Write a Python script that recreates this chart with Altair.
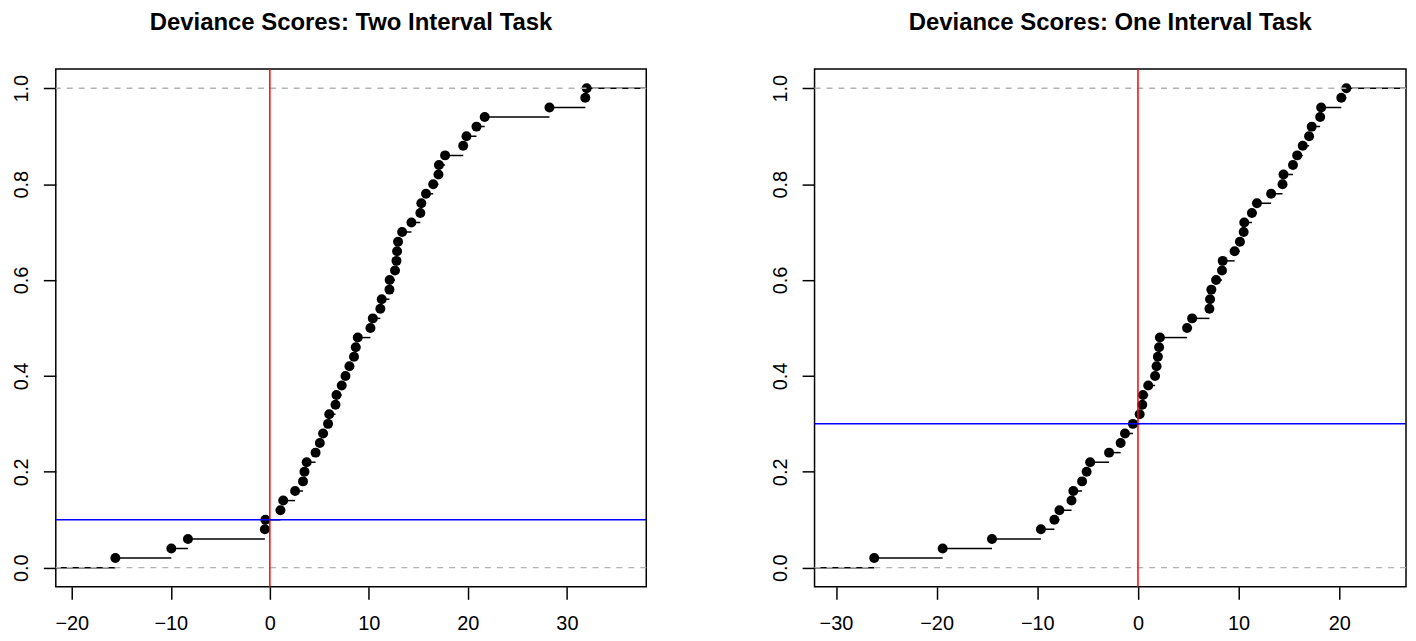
import altair as alt
import pandas as pd
import numpy as np

# Deviance scores (sorted) (n = 50 each)
two_interval = [
    -15.6, -9.95, -8.27, -0.5, -0.45, 1.07, 1.35, 2.55, 3.35, 3.5,
    3.72, 4.62, 5.05, 5.38, 5.88, 6.0, 6.63, 6.73, 7.26, 7.64,
    8.04, 8.5, 8.68, 8.88, 10.16, 10.4, 11.16, 11.3, 12.08, 12.1,
    12.64, 12.79, 12.85, 12.95, 13.36, 14.3, 15.2, 15.3, 15.77, 16.5,
    17.03, 17.08, 17.7, 19.53, 19.86, 20.87, 21.7, 28.24, 31.86, 32.0,
]
one_interval = [
    -26.2, -19.4, -14.5, -9.64, -8.3, -7.8, -6.6, -6.42, -5.55, -5.1,
    -4.75, -2.87, -1.72, -1.29, -0.5, 0.17, 0.43, 0.5, 1.02, 1.7,
    1.85, 1.98, 2.1, 2.18, 4.88, 5.38, 7.1, 7.16, 7.29, 7.76,
    8.35, 8.42, 9.6, 10.13, 10.5, 10.56, 11.32, 11.82, 13.23, 14.36,
    14.46, 15.4, 15.82, 16.37, 17.0, 17.26, 18.1, 18.2, 20.2, 20.7,
]
titles = ["Deviance Scores: Two Interval Task", "Deviance Scores: One Interval Task"]
blue_levels = [0.1, 0.3]
red_level = 0.0
ref_levels = [0.0, 1.0]
x_ticks_two = [-20, -10, 0, 10, 20, 30]
x_ticks_one = [-30, -20, -10, 0, 10, 20]
y_ticks = [0.0, 0.2, 0.4, 0.6, 0.8, 1.0]

FONT = "Liberation Sans"


def panel(vals, title, hline, xticks, width):
    v = sorted(vals)
    n = len(v)
    dr = max(0.08 * (v[-1] - v[0]), float(np.median(np.diff(v))))
    lo, hi = v[0] - dr, v[-1] + dr
    ext = 0.04 * (hi - lo)
    xdom = [lo - ext, hi + ext]
    ydom = [-0.04, 1.04]

    pts = pd.DataFrame({"x": v, "y": [(i + 1) / n for i in range(n)]})
    seg = pd.DataFrame({
        "x": [xdom[0]] + v,
        "x2": v + [xdom[1]],
        "y": [i / n for i in range(n + 1)],
    })
    refs = pd.DataFrame({"y": ref_levels})
    red = pd.DataFrame({"x": [red_level]})
    blue = pd.DataFrame({"y": [hline]})

    xs = alt.Scale(domain=xdom, nice=False, zero=False)
    ys = alt.Scale(domain=ydom, nice=False, zero=False)
    xax = alt.Axis(values=xticks, title=None, grid=False, domain=False,
                   labelFontSize=20, labelFont=FONT, labelColor="black",
                   tickSize=12.5, tickWidth=1.5, tickColor="black",
                   labelPadding=14, labelFlush=False, labelOverlap=False,
                   labelBaseline="top")
    yax = alt.Axis(values=y_ticks, format=".1f", title=None, grid=False, domain=False,
                   labelFontSize=20, labelFont=FONT, labelColor="black",
                   tickSize=12.5, tickWidth=1.5, tickColor="black",
                   labelAngle=270, labelAlign="center", labelBaseline="alphabetic",
                   labelPadding=16, labelFlush=False, labelOverlap=False,
                   minExtent=47, maxExtent=47)

    segs = alt.Chart(seg).mark_rule(color="black", strokeWidth=1.5, clip=True).encode(
        x=alt.X("x:Q", scale=xs, axis=xax),
        x2="x2:Q",
        y=alt.Y("y:Q", scale=ys, axis=yax),
    )
    dots = alt.Chart(pts).mark_circle(color="black", opacity=1, size=100).encode(
        x=alt.X("x:Q", scale=xs),
        y=alt.Y("y:Q", scale=ys),
    )
    dashed = alt.Chart(refs).mark_rule(color="#B3B3B3", strokeWidth=1.3,
                                       strokeDash=[6, 6]).encode(
        y=alt.Y("y:Q", scale=ys),
    )
    redline = alt.Chart(red).mark_rule(color="#FF0000", strokeWidth=1.5).encode(
        x=alt.X("x:Q", scale=xs),
    )
    blueline = alt.Chart(blue).mark_rule(color="#0000FF", strokeWidth=1.5).encode(
        y=alt.Y("y:Q", scale=ys),
    )
    return alt.layer(segs, dots, dashed, redline, blueline).properties(
        width=width, height=520,
        title=alt.TitleParams(text=title, fontSize=24, fontWeight="bold", font=FONT,
                              color="black", anchor="middle", offset=34),
    )


left = panel(two_interval, titles[0], blue_levels[0], x_ticks_two, 593)
right = panel(one_interval, titles[1], blue_levels[1], x_ticks_one, 594)

chart = alt.hconcat(left, right, spacing=119).properties(
    padding={"left": 0, "top": 0, "right": 0, "bottom": 0},
).configure_view(stroke="black", strokeWidth=1.5)

chart.save("out.html", embed_options={"renderer": "svg", "actions": False})
